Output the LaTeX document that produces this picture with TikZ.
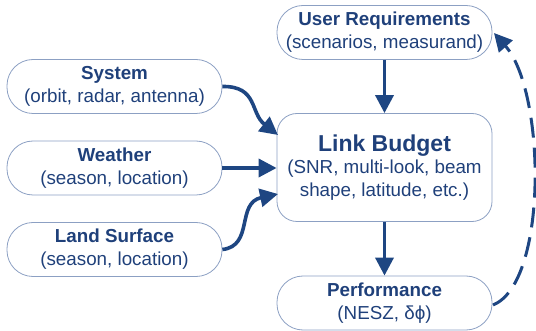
\documentclass[tikz,border=0pt]{standalone}
\usepackage{fontspec}
\setmainfont{Liberation Sans}
\usetikzlibrary{arrows.meta}
\definecolor{txtblue}{RGB}{31,64,122}
\definecolor{arrblue}{RGB}{30,70,130}
\definecolor{boxline}{RGB}{140,160,195}
\tikzset{
  pill/.style={draw=boxline, line width=0.8pt, rounded corners=26pt, minimum width=215pt, minimum height=54pt, align=center, text=txtblue, inner sep=0pt, font=\fontsize{18.8}{23}\selectfont},
  bigbox/.style={draw=boxline, line width=0.8pt, rounded corners=20pt, minimum width=215pt, minimum height=108pt, align=center, text=txtblue, inner sep=0pt, font=\fontsize{18.8}{22.5}\selectfont},
  flow/.style={draw=arrblue, line width=3.6pt, -{Triangle[length=18pt,width=18pt]}},
  back/.style={draw=arrblue, line width=3pt, dash pattern=on 20pt off 10pt, -{Triangle[length=18pt,width=18pt]}},
}
\begin{document}
\begin{tikzpicture}[x=1pt,y=-1pt]
\useasboundingbox (0,0) rectangle (536,331);
\node[pill] (sys) at (114.5,86.5) {\textbf{System}\\(orbit, radar, antenna)};
\node[pill] (wea) at (114.5,168) {\textbf{Weather}\\(season, location)};
\node[pill] (land) at (114.5,249.5) {\textbf{Land Surface}\\(season, location)};
\node[pill] (user) at (384.5,32.5) {\textbf{User Requirements}\\(scenarios, measurand)};
\node[bigbox] (link) at (384.5,167.5) {{\fontsize{23}{27}\selectfont\bfseries Link Budget}\\(SNR, multi-look, beam\\shape, latitude, etc.)};
\node[pill] (perf) at (384.5,303) {\textbf{Performance}\\(NESZ, δϕ)};
\draw[flow] (user.south) -- (link.north);
\draw[flow] (link.south) -- (perf.north);
\draw[flow] (wea.east) -- (wea.east -| link.west);
\coordinate (sysin) at (278,135);
\coordinate (landin) at (278,194);
\draw[flow] (sys.east) .. controls (258,86) and (250,113) .. (sysin);
\draw[flow] (land.east) .. controls (254,246) and (236,203) .. (landin);
\coordinate (perfout) at (493,305);
\coordinate (userin) at (494,33);
\draw[back] (perfout) .. controls (548,283) and (546,92) .. (userin);
\end{tikzpicture}
\end{document}
